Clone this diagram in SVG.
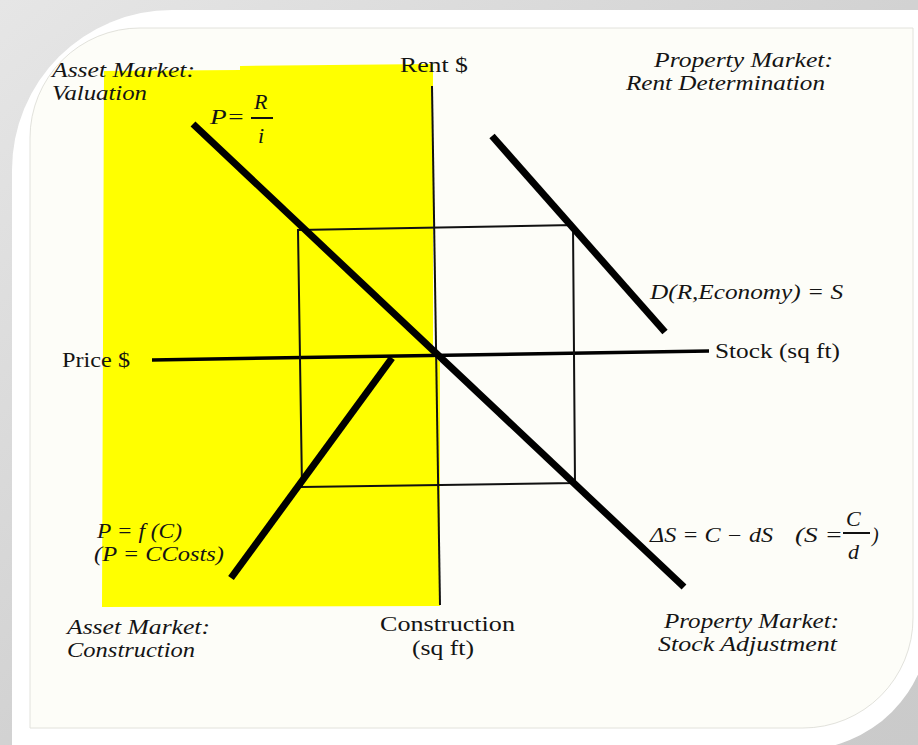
<svg xmlns="http://www.w3.org/2000/svg" width="918" height="745" viewBox="0 0 918 745">
  <style>
    .t { font-family: "Liberation Serif", "Times New Roman", serif; font-size: 20px; fill: #141414; }
    .i { font-style: italic; }
    .big { font-size: 22px; }
    .thick { stroke: #000; stroke-width: 7; stroke-linecap: butt; fill: none; }
    .axis { stroke: #000; stroke-width: 3.5; fill: none; }
    .thin { stroke: #111; stroke-width: 2; fill: none; }
  </style>
  <defs>
    <linearGradient id="bg" x1="0" y1="0" x2="1" y2="1">
      <stop offset="0" stop-color="#e6e6e6"/>
      <stop offset="0.5" stop-color="#d2d2d2"/>
      <stop offset="1" stop-color="#cacaca"/>
    </linearGradient>
  </defs>
  <g id="frame">
    <rect x="0" y="0" width="918" height="745" fill="url(#bg)"/>
    <path d="M172,10 H930 V620 A130,130 0 0 1 800,750 H12 V170 A160,160 0 0 1 172,10 Z" fill="#ffffff"/>
    <path d="M140,28 H913 V618 A110,110 0 0 1 803,728 H30 V138 A110,110 0 0 1 140,28 Z" fill="#fdfdf8" stroke="#e2e2dc" stroke-width="1"/>
  </g>
  <g id="highlight">
    <polygon points="104,71 240,70 240,66 433,64 433,356 440,362 440,606 102,607" fill="#ffff00"/>
  </g>
  <g id="connectors">
    <line id="rent-axis" class="thin" x1="432" y1="86" x2="440" y2="605"/>
    <line id="price-stock-axis" class="axis" x1="152" y1="360" x2="709" y2="351"/>
    <polygon id="four-quadrant-rect" class="thin" points="298,230 573,225 575,483 302,487"/>
    <line id="valuation-line" class="thick" x1="193" y1="124" x2="684" y2="587"/>
    <line id="demand-line" class="thick" x1="492" y1="136" x2="665" y2="332"/>
    <line id="construction-line" class="thick" x1="231" y1="578" x2="392" y2="358"/>
  </g>
  <g id="asset-valuation">
    <text class="t i" x="52" y="77" textLength="143" lengthAdjust="spacingAndGlyphs">Asset Market:</text>
    <text class="t i" x="52" y="100" textLength="95" lengthAdjust="spacingAndGlyphs">Valuation</text>
    <text class="t i big" x="210" y="124" textLength="35" lengthAdjust="spacingAndGlyphs">P=</text>
    <text class="t i big" x="254" y="109">R</text>
    <line class="thin" x1="251" y1="118" x2="273" y2="118" stroke-width="1.5"/>
    <text class="t i big" x="258" y="143">i</text>
  </g>
  <g id="rent-label">
    <text class="t" x="400" y="72" textLength="68" lengthAdjust="spacingAndGlyphs">Rent $</text>
  </g>
  <g id="property-rent">
    <text class="t i" x="654" y="67" textLength="179" lengthAdjust="spacingAndGlyphs">Property Market:</text>
    <text class="t i" x="626" y="90" textLength="199" lengthAdjust="spacingAndGlyphs">Rent Determination</text>
    <text class="t i" x="650" y="299" textLength="193" lengthAdjust="spacingAndGlyphs">D(R,Economy) = S</text>
  </g>
  <g id="stock-label">
    <text class="t" x="715" y="358" textLength="125" lengthAdjust="spacingAndGlyphs">Stock (sq ft)</text>
  </g>
  <g id="price-label">
    <text class="t" x="62" y="367" textLength="68" lengthAdjust="spacingAndGlyphs">Price $</text>
  </g>
  <g id="asset-construction">
    <text class="t i" x="97" y="538" textLength="85" lengthAdjust="spacingAndGlyphs">P = f (C)</text>
    <text class="t i" x="94" y="561" textLength="130" lengthAdjust="spacingAndGlyphs">(P = CCosts)</text>
    <text class="t i" x="67" y="634" textLength="143" lengthAdjust="spacingAndGlyphs">Asset Market:</text>
    <text class="t i" x="67" y="657" textLength="128" lengthAdjust="spacingAndGlyphs">Construction</text>
  </g>
  <g id="construction-label">
    <text class="t" x="380" y="631" textLength="135" lengthAdjust="spacingAndGlyphs">Construction</text>
    <text class="t" x="412" y="655" textLength="62" lengthAdjust="spacingAndGlyphs">(sq ft)</text>
  </g>
  <g id="property-stock">
    <text class="t i" x="650" y="542" textLength="123" lengthAdjust="spacingAndGlyphs">ΔS = C − dS</text>
    <text class="t i" x="795" y="542" textLength="48" lengthAdjust="spacingAndGlyphs">(S =</text>
    <text class="t i big" x="846" y="526">C</text>
    <line class="thin" x1="843" y1="533" x2="870" y2="533" stroke-width="1.5"/>
    <text class="t i big" x="848" y="559">d</text>
    <text class="t i" x="872" y="542">)</text>
    <text class="t i" x="664" y="628" textLength="175" lengthAdjust="spacingAndGlyphs">Property Market:</text>
    <text class="t i" x="658" y="651" textLength="179" lengthAdjust="spacingAndGlyphs">Stock Adjustment</text>
  </g>
</svg>
